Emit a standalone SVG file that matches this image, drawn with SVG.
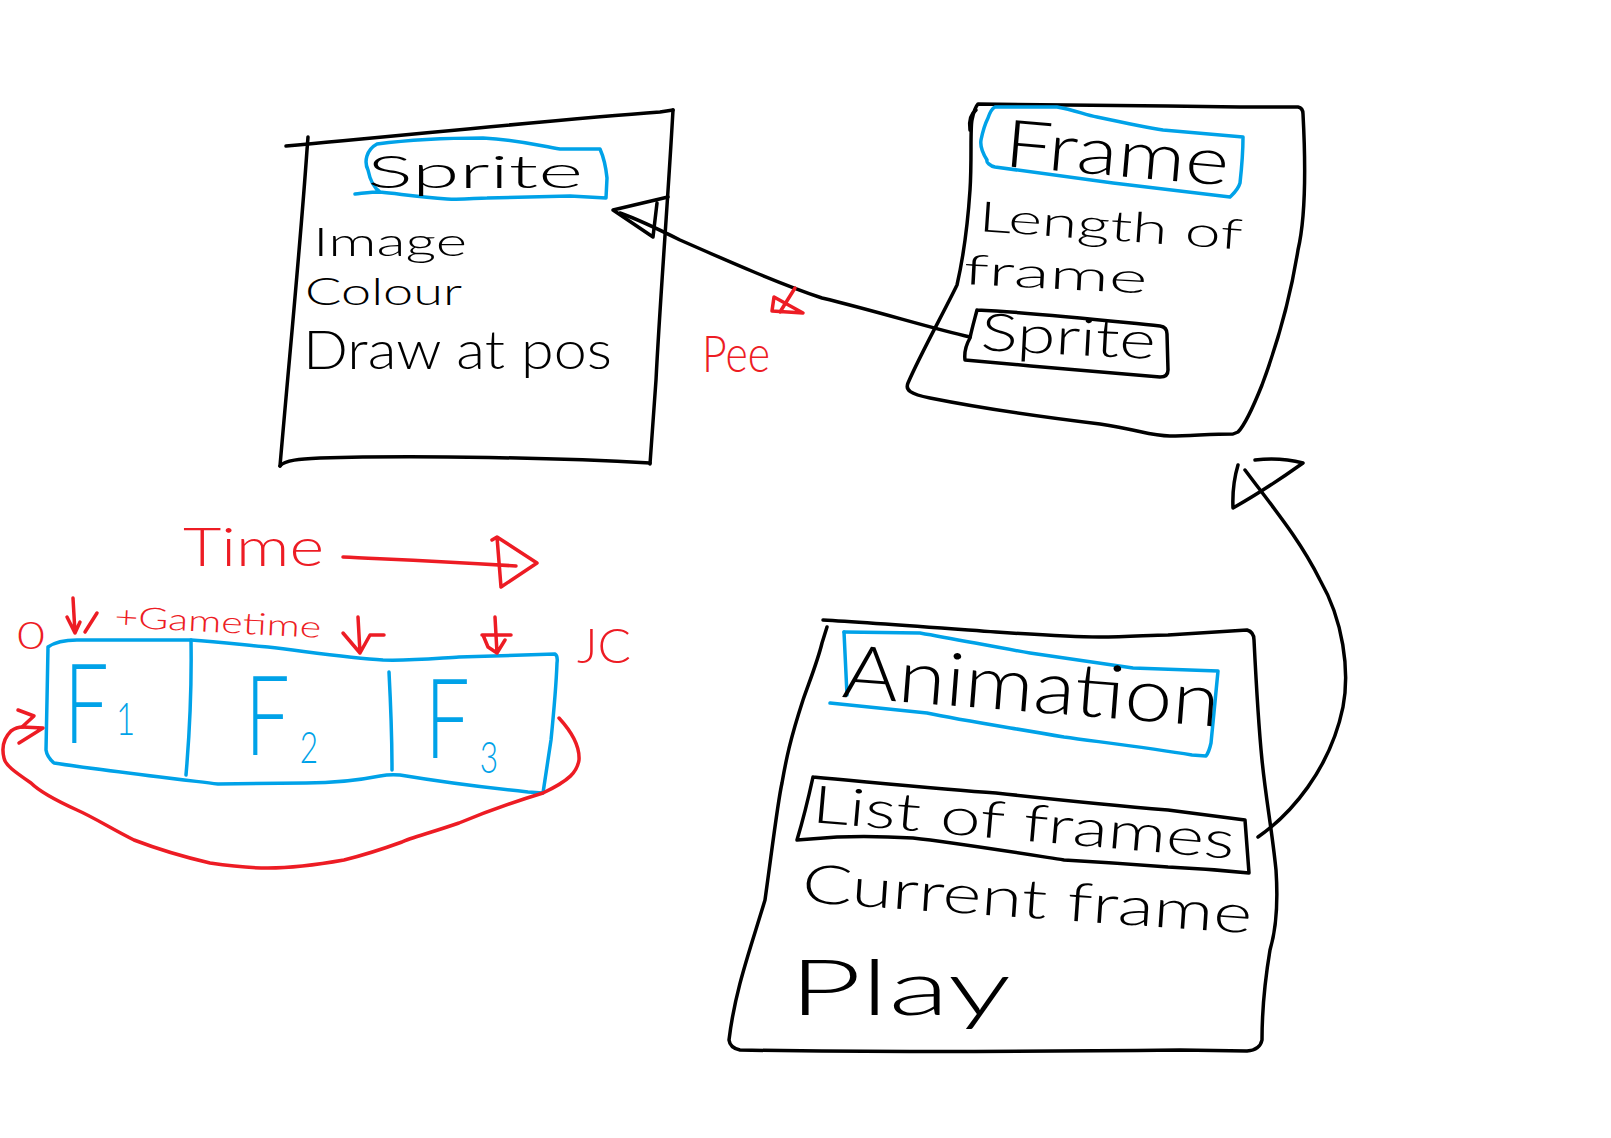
<svg xmlns="http://www.w3.org/2000/svg" width="1611" height="1138" viewBox="0 0 1611 1138">
<style>
.k{fill:none;stroke:#000;stroke-width:3.5;stroke-linecap:round;stroke-linejoin:round}
.b{fill:none;stroke:#00a2e8;stroke-width:3.5;stroke-linecap:round;stroke-linejoin:round}
.r{fill:none;stroke:#ed1c24;stroke-width:3.5;stroke-linecap:round;stroke-linejoin:round}
text{font-family:"Lato","Liberation Sans",sans-serif;font-weight:300}
.tk{fill:#000}
.tb{fill:#00a2e8}
.tr{fill:#ed1c24}
</style>
<rect width="1611" height="1138" fill="#fff"/>

<g id="node-sprite">
<path class="k" d="M 286 146 C 400 136, 550 120, 660 112 L 673 110"/>
<path class="k" d="M 308 137 L 307 150 C 300 250, 290 350, 280 466"/>
<path class="k" d="M 280 466 C 285 460, 300 459, 320 458 C 420 455, 560 458, 650 463"/>
<path class="k" d="M 673 110 C 668 200, 660 300, 656 380 L 650 464"/>
<path class="b" d="M 355 194 C 365 193, 372 192, 380 192 C 400 194, 420 197, 447 199 C 465 200, 475 198, 487 198 L 570 196 L 606 198 L 607 178 C 606 168, 604 158, 600 149 L 560 149 C 540 146, 520 140, 483 138 C 440 138, 400 141, 377 144 C 366 150, 364 162, 368 170 C 370 180, 374 188, 380 192"/>
<text class="tk" x="367" y="188" font-size="46" textLength="216" lengthAdjust="spacingAndGlyphs">Sprite</text>
<text class="tk" x="313" y="256" font-size="40" textLength="154" lengthAdjust="spacingAndGlyphs">Image</text>
<text class="tk" x="305" y="305" font-size="38" textLength="157" lengthAdjust="spacingAndGlyphs">Colour</text>
<text class="tk" x="303" y="369" font-size="54" textLength="309" lengthAdjust="spacingAndGlyphs">Draw at pos</text>
</g>

<g id="node-frame">
<path class="k" d="M 978 104 C 1050 104, 1150 106, 1240 107 L 1298 107 Q 1303 108 1303 114 C 1306 170, 1305 220, 1298 250 C 1290 300, 1275 350, 1262 385 C 1252 410, 1245 425, 1238 432 L 1233 434 C 1210 434, 1190 436, 1170 436 C 1150 436, 1140 430, 1100 424 C 1050 418, 980 408, 930 398 C 910 394, 905 390, 908 383 C 920 355, 945 310, 957 285 C 965 250, 968 220, 970 190 C 972 160, 970 130, 972 120 C 974 110, 976 106, 978 104"/>
<path class="k" d="M 976 110 Q 968 116 970 130"/>
<path class="b" d="M 995 107 L 1057 107 C 1075 110, 1085 115, 1097 117 C 1130 124, 1150 128, 1163 130 L 1243 137 C 1243 150, 1242 165, 1240 183 C 1238 190, 1233 194, 1230 197 L 1113 183 L 995 167 C 990 166, 986 162, 987 160 C 982 152, 980 146, 981 140 C 983 130, 986 122, 988 118 C 990 112, 993 108, 995 107"/>
<text class="tk" x="1003" y="166" font-size="66" textLength="225" lengthAdjust="spacingAndGlyphs" transform="rotate(5 1003 166)">Frame</text>
<text class="tk" x="978" y="231" font-size="42" textLength="264" lengthAdjust="spacingAndGlyphs" transform="rotate(4 978 231)">Length of</text>
<text class="tk" x="963" y="284" font-size="42" textLength="184" lengthAdjust="spacingAndGlyphs" transform="rotate(3 963 284)">frame</text>
<path class="k" d="M 977 310 C 1040 313, 1100 320, 1160 326 Q 1167 327 1167 334 L 1168 370 Q 1168 377 1160 377 C 1100 372, 1030 366, 965 360 C 964 352, 966 345, 970 338 C 972 328, 975 318, 977 310"/>
<text class="tk" x="980" y="350" font-size="52" textLength="175" lengthAdjust="spacingAndGlyphs" transform="rotate(3 980 350)">Sprite</text>
</g>

<g id="node-animation">
<path class="k" d="M 823 620 C 860 622, 900 625, 996 632 C 1040 635, 1070 637, 1099 637 C 1130 637, 1150 635, 1168 635 L 1247 630 Q 1254 632 1254 640 C 1256 680, 1258 720, 1262 760 C 1266 800, 1272 830, 1276 870 C 1278 900, 1276 930, 1270 950 C 1265 980, 1262 1010, 1262 1040 Q 1260 1050 1247 1051 L 1180 1050 C 1000 1052, 850 1052, 740 1050 Q 730 1048 729 1040 C 735 990, 750 950, 765 900 C 772 850, 778 800, 782 783 C 786 760, 790 740, 803 700 C 810 680, 818 660, 822 643 L 827 627"/>
<path class="b" d="M 844 632 L 920 633 C 960 640, 1000 648, 1030 653 L 1133 668 L 1218 671 L 1211 743 Q 1209 752 1206 756 L 1192 755 C 1150 748, 1100 742, 1064 737 C 1000 726, 960 720, 927 713 L 830 703"/>
<path class="b" d="M 844 632 L 847 695"/>
<text class="tk" x="841" y="697" font-size="74" textLength="378" lengthAdjust="spacingAndGlyphs" transform="rotate(4.5 841 697)">Animation</text>
<path class="k" d="M 813 777 C 900 785, 950 790, 996 793 C 1060 800, 1120 806, 1168 810 L 1245 820 L 1249 873 C 1220 870, 1190 868, 1168 867 C 1130 864, 1100 862, 1064 860 C 1000 850, 950 842, 913 838 C 880 836, 860 836, 837 837 L 797 840 C 803 820, 808 800, 813 777"/>
<text class="tk" x="811" y="822" font-size="52" textLength="424" lengthAdjust="spacingAndGlyphs" transform="rotate(5 811 822)">List of frames</text>
<text class="tk" x="801" y="902" font-size="54" textLength="451" lengthAdjust="spacingAndGlyphs" transform="rotate(4 801 902)">Current frame</text>
<text class="tk" x="789" y="1015" font-size="76" textLength="222" lengthAdjust="spacingAndGlyphs">Play</text>
</g>

<g id="node-frames-strip">
<path class="b" d="M 48 647 C 55 642, 65 640, 77 640 L 191 640 C 220 642, 245 645, 268 647 C 310 652, 350 658, 383 660 C 410 661, 440 658, 459 657 L 555 654 Q 558 656 557 663 C 556 690, 553 720, 551 740 C 548 760, 545 780, 543 793 L 528 792 C 480 787, 430 780, 400 775 Q 390 774 380 776 C 360 780, 330 783, 306 783 L 218 784 C 160 777, 100 770, 54 763 Q 47 757 46 750 L 47 700 Z"/>
<path class="b" d="M 191 640 C 192 700, 189 740, 186 775"/>
<path class="b" d="M 389 672 C 391 710, 392 740, 392 770"/>
<text class="tb" font-size="110" transform="translate(64 743) scale(0.72 1)">F<tspan font-size="46" dx="10" dy="-8">1</tspan></text>
<text class="tb" font-size="110" transform="translate(245 755) scale(0.72 1)">F<tspan font-size="44" dx="14" dy="8">2</tspan></text>
<text class="tb" font-size="110" transform="translate(425 758) scale(0.72 1)">F<tspan font-size="44" dx="14" dy="15">3</tspan></text>
</g>

<g id="timeline-labels">
<text class="tr" x="183" y="566" font-size="54" textLength="141" lengthAdjust="spacingAndGlyphs">Time</text>
<text class="tr" x="17" y="649" font-size="38" textLength="28" lengthAdjust="spacingAndGlyphs">0</text>
<text class="tr" x="114" y="627" font-size="30" textLength="207" lengthAdjust="spacingAndGlyphs" transform="rotate(3 114 627)">+Gametime</text>
<text class="tr" x="577" y="663" font-size="48" textLength="54" lengthAdjust="spacingAndGlyphs">JC</text>
<text class="tr" x="702" y="372" font-size="52" textLength="68" lengthAdjust="spacingAndGlyphs">Pee</text>
</g>

<g id="connectors">
<path class="k" d="M 970 337 C 930 328, 880 312, 822 298 C 780 284, 730 262, 680 240 C 660 230, 640 220, 620 213"/>
<path class="k" d="M 613 210 L 668 197 M 657 203 L 653 237 L 613 210"/>
<path class="k" d="M 1258 837 C 1290 815, 1330 770, 1343 707 C 1350 670, 1343 620, 1320 580 C 1300 540, 1275 510, 1245 470"/>
<path class="k" d="M 1238 465 Q 1232 485 1233 508 Q 1265 490 1303 463 Q 1280 457 1255 460"/>
<path class="r" d="M 795 288 L 780 312 M 774 297 L 803 313 L 772 311 Z"/>
<path class="r" d="M 343 557 C 380 559, 420 560, 516 566"/>
<path class="r" d="M 492 540 L 497 537 L 537 563 L 501 587 L 497 537"/>
<path class="r" d="M 73 598 L 75 633 M 67 617 L 75 633 L 80 622 M 97 613 L 85 632"/>
<path class="r" d="M 358 617 L 360 653 M 343 633 L 360 653 L 370 635 L 384 635"/>
<path class="r" d="M 495 617 L 497 653 M 483 635 L 488 647 L 497 653 L 505 640 M 482 635 L 511 635"/>
<path class="r" d="M 559 718 C 570 730, 580 745, 579 760 C 577 772, 570 780, 543 793 C 520 800, 490 810, 459 823 C 430 833, 410 838, 402 842 C 380 850, 360 856, 344 860 C 310 866, 285 868, 268 868 C 250 868, 230 866, 210 863 C 180 856, 160 850, 134 840 C 110 828, 95 818, 77 810 C 55 800, 40 792, 31 783 C 15 772, 5 765, 4 758 C 2 750, 2 740, 11 731 C 15 728, 20 727, 23 727"/>
<path class="r" d="M 18 710 L 34 716 L 22 727 L 43 728 L 19 743"/>
</g>
</svg>
